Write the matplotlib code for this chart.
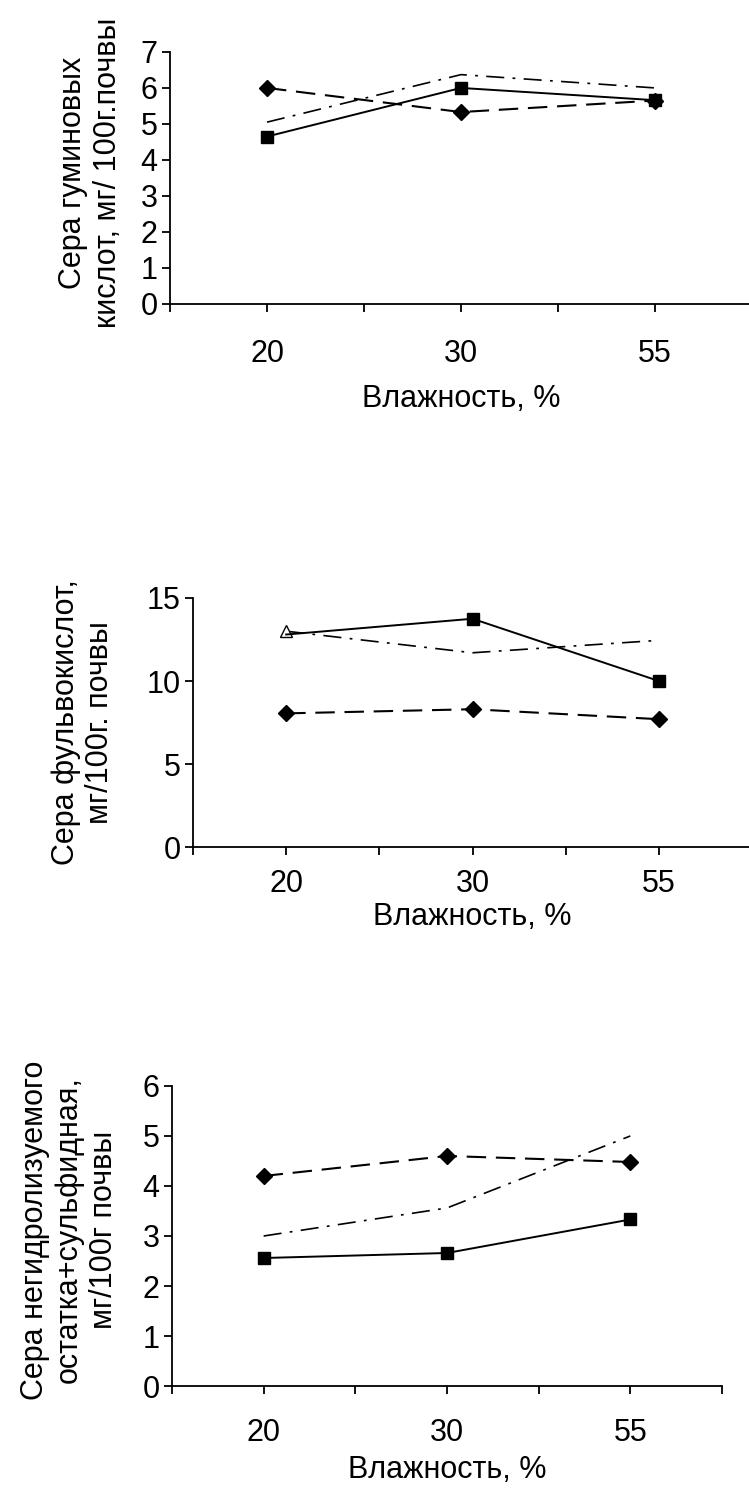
import numpy as np
import matplotlib
matplotlib.use('Agg')
import matplotlib.pyplot as plt

plt.rcParams['font.family'] = ['Liberation Sans', 'DejaVu Sans']
plt.rcParams['lines.scale_dashes'] = False

moisture = ['20', '30', '55']

# сера гуминовых кислот
humic_sq = [4.65, 6.0, 5.66]
humic_dm = [6.0, 5.33, 5.65]
humic_dd = [5.05, 6.37, 6.0]

# сера фульвокислот
fulvic_sq = [12.8, 13.75, 10.0]
fulvic_dm = [8.05, 8.3, 7.7]
fulvic_dd = [13.0, 11.7, 12.45]

# негидролизуемый остаток + сульфидная
residue_sq = [2.56, 2.66, 3.33]
residue_dm = [4.2, 4.6, 4.48]
residue_dd = [3.0, 3.56, 5.0]

fs = 22
dash = (14, 7)
dashdot = (13, 6, 2, 6)


def panel(ax, sq, dm, dd, ylim, yticks, ylabel, xmax, lab_xy, tick_pad, xlab_y,
          sq_mark=(0, 1, 2), dd_mark=None):
    x = np.arange(len(moisture))
    ax.plot(x, dd, color='black', lw=1.2, dashes=dashdot,
            marker='^' if dd_mark else None, markevery=dd_mark,
            mfc='white', mec='black', ms=8.5, mew=1.0)
    ax.plot(x, dm, color='black', lw=1.5, dashes=dash,
            marker='D', ms=8.5, mfc='black', mec='black')
    ax.plot(x, sq, color='black', lw=1.4, ls='-',
            marker='s', ms=8.5, mfc='black', mec='black', markevery=list(sq_mark))

    ax.set_xlim(-0.5, xmax)
    ax.set_ylim(*ylim)
    ax.set_yticks(yticks)
    ax.set_xticks(x)
    ax.set_xticklabels(moisture)
    ax.set_xticks([-0.5, 0.5, 1.5, 2.5], minor=True)

    for s in ['top', 'right']:
        ax.spines[s].set_visible(False)
    for s in ['left', 'bottom']:
        ax.spines[s].set_linewidth(1.3)
        ax.spines[s].set_clip_on(False)

    ax.tick_params(axis='y', which='both', direction='out', length=6, width=1.3,
                   labelsize=fs, pad=3)
    ax.tick_params(axis='x', which='both', direction='out', length=6, width=1.3,
                   labelsize=fs, pad=tick_pad)

    ax.set_ylabel(ylabel, fontsize=fs, va='center', ha='center', linespacing=1.2)
    ax.yaxis.set_label_coords(*lab_xy)
    ax.set_xlabel('Влажность, %', fontsize=fs, va='center')
    ax.xaxis.set_label_coords(0.5, xlab_y)


fig = plt.figure(figsize=(7.49, 15.01), dpi=100)

ax1 = fig.add_axes([0.2270, 0.7975, 0.777, 0.1679])
panel(ax1, humic_sq, humic_dm, humic_dd, (0, 7), range(0, 8),
      'Сера гуминовых\nкислот, мг/ 100г.почвы', 2.5,
      (-0.137, 0.52), 19, -0.377)

ax2 = fig.add_axes([0.2577, 0.4357, 0.7463, 0.1659])
panel(ax2, fulvic_sq, fulvic_dm, fulvic_dd, (0, 15), [0, 5, 10, 15],
      'Сера фульвокислот,\nмг/100г. почвы', 2.5,
      (-0.197, 0.5), 10, -0.28, sq_mark=(1, 2), dd_mark=[0])

ax3 = fig.add_axes([0.2296, 0.0766, 0.7343, 0.1999])
panel(ax3, residue_sq, residue_dm, residue_dd, (0, 6), range(0, 7),
      'Сера негидролизуемого\nостатка+сульфидная,\nмг/100г почвы', 2.5,
      (-0.187, 0.52), 17, -0.28)

fig.savefig('out.png', dpi=100)
